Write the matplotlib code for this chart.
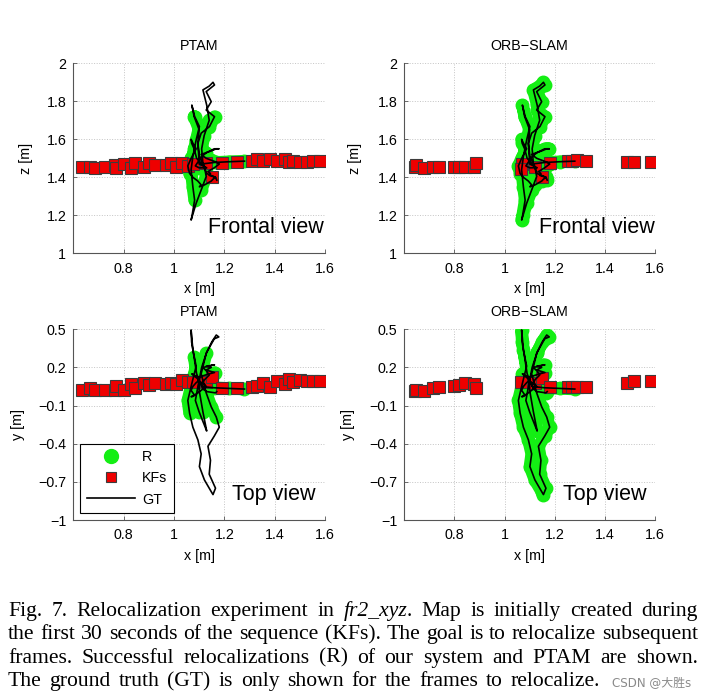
import numpy as np
import matplotlib
matplotlib.use("Agg")
import matplotlib.pyplot as plt
from matplotlib.lines import Line2D

# ground truth of the frames to relocalize, [m]
gt_x = [1.280, 1.220, 1.160, 1.110, 1.090, 1.080, 1.070, 1.068, 1.075, 1.088,
        1.068, 1.055, 1.062, 1.075, 1.095, 1.108, 1.101, 1.121, 1.148, 1.155,
        1.165, 1.140, 1.145, 1.135, 1.160, 1.180, 1.168, 1.148, 1.128, 1.108,
        1.128, 1.150, 1.168, 1.178, 1.160, 1.130, 1.110, 1.095, 1.085, 1.100,
        1.120, 1.130, 1.115, 1.100, 1.100, 1.095, 1.100, 1.080, 1.071, 1.082,
        1.101, 1.088, 1.075, 1.068, 1.075, 1.082, 1.072, 1.068, 1.088, 1.108,
        1.128, 1.121, 1.101, 1.095, 1.108, 1.141, 1.161, 1.128, 1.148, 1.128,
        1.161, 1.155, 1.140, 1.115, 1.130, 1.140, 1.120, 1.110, 1.115, 1.130,
        1.165, 1.170]
gt_y = [0.030, 0.035, 0.040, 0.050, 0.150, 0.280, 0.400, 0.495, 0.340, 0.210,
        0.050, -0.060, -0.160, -0.270, -0.370, -0.480, -0.580, -0.685, -0.777, -0.800,
        -0.750, -0.640, -0.530, -0.420, -0.340, -0.270, -0.190, -0.110, 0.000, 0.150,
        0.310, 0.400, 0.455, 0.440, 0.425, 0.320, 0.200, 0.050, -0.060, -0.150,
        -0.250, -0.300, -0.150, 0.020, 0.080, 0.100, 0.120, 0.140, 0.150, 0.130,
        0.100, 0.080, 0.050, 0.020, 0.000, -0.020, -0.030, -0.030, -0.010, 0.020,
        0.050, 0.070, 0.090, 0.110, 0.130, 0.150, 0.160, 0.180, 0.200, 0.210,
        0.220, 0.220, 0.210, 0.200, 0.170, 0.140, 0.100, 0.060, 0.030, 0.010,
        0.000, 0.010]
gt_z = [1.485, 1.482, 1.478, 1.470, 1.500, 1.550, 1.580, 1.600, 1.580, 1.550,
        1.500, 1.460, 1.420, 1.400, 1.380, 1.360, 1.350, 1.360, 1.380, 1.390,
        1.400, 1.410, 1.420, 1.430, 1.450, 1.470, 1.480, 1.490, 1.500, 1.520,
        1.530, 1.540, 1.550, 1.550, 1.550, 1.530, 1.510, 1.480, 1.460, 1.450,
        1.450, 1.450, 1.460, 1.470, 1.480, 1.580, 1.650, 1.720, 1.780, 1.720,
        1.667, 1.596, 1.509, 1.440, 1.350, 1.280, 1.200, 1.175, 1.263, 1.333,
        1.404, 1.456, 1.509, 1.579, 1.632, 1.667, 1.719, 1.754, 1.798, 1.851,
        1.886, 1.900, 1.880, 1.860, 1.780, 1.700, 1.620, 1.550, 1.470, 1.420,
        1.400, 1.385]

# 1 = frame relocalized by PTAM (ORB-SLAM relocalizes every frame)
ptam_reloc = [1, 1, 1, 1, 1, 1, 0, 0, 0, 1,
              1, 1, 1, 0, 0, 0, 0, 0, 0, 0,
              0, 0, 0, 0, 0, 0, 1, 1, 1, 1,
              1, 0, 0, 0, 0, 0, 1, 1, 1, 1,
              0, 0, 1, 1, 1, 1, 1, 1, 0, 1,
              1, 1, 1, 1, 1, 1, 0, 0, 0, 1,
              1, 1, 1, 1, 1, 1, 1, 0, 0, 0,
              0, 0, 0, 0, 0, 1, 1, 1, 1, 1,
              0, 0]
orb_reloc = [1] * len(gt_x)

# keyframes of the initial map
kf_ptam_x = [0.635, 0.668, 0.685, 0.725, 0.764, 0.771, 0.803, 0.829, 0.844, 0.882,
             0.902, 0.926, 0.968, 0.988, 1.008, 1.031, 1.054, 1.074, 1.127, 1.150,
             1.190, 1.250, 1.309, 1.329, 1.355, 1.382, 1.408, 1.441, 1.455, 1.474,
             1.501, 1.527, 1.554, 1.580]
kf_ptam_y = [0.023, 0.036, 0.020, 0.026, 0.023, 0.054, 0.025, 0.070, 0.041, 0.075,
             0.060, 0.075, 0.070, 0.080, 0.072, 0.101, 0.088, 0.088, 0.085, 0.122,
             0.041, 0.036, 0.044, 0.054, 0.075, 0.049, 0.096, 0.067, 0.107, 0.085,
             0.101, 0.096, 0.096, 0.096]
kf_ptam_z = [1.456, 1.456, 1.451, 1.454, 1.465, 1.451, 1.468, 1.451, 1.474, 1.456,
             1.474, 1.465, 1.465, 1.474, 1.456, 1.477, 1.460, 1.468, 1.474, 1.404,
             1.477, 1.479, 1.486, 1.495, 1.486, 1.495, 1.486, 1.495, 1.482, 1.486,
             1.479, 1.482, 1.486, 1.486]

kf_orb_x = [0.643, 0.646, 0.679, 0.714, 0.740, 0.800, 0.819, 0.843, 0.878, 0.885,
            1.071, 1.064, 1.122, 1.151, 1.181, 1.254, 1.268, 1.288, 1.325, 1.487,
            1.516, 1.584]
kf_orb_y = [0.017, 0.023, 0.017, 0.036, 0.049, 0.057, 0.062, 0.075, 0.070, 0.041,
            0.088, 0.085, 0.080, 0.120, 0.044, 0.044, 0.044, 0.044, 0.044, 0.080,
            0.096, 0.096]
kf_orb_z = [1.456, 1.465, 1.451, 1.453, 1.456, 1.453, 1.453, 1.453, 1.453, 1.477,
            1.470, 1.442, 1.456, 1.404, 1.477, 1.486, 1.486, 1.491, 1.486, 1.479,
            1.479, 1.479]

x_ticks = [0.8, 1.0, 1.2, 1.4, 1.6]
x_ticklabels = ['0.8', '1', '1.2', '1.4', '1.6']
z_ticks = [1.0, 1.2, 1.4, 1.6, 1.8, 2.0]
z_ticklabels = ['1', '1.2', '1.4', '1.6', '1.8', '2']
y_ticks = [-1.0, -0.7, -0.4, -0.1, 0.2, 0.5]
y_ticklabels = ['\u22121', '\u22120.7', '\u22120.4', '\u22120.1', '0.2', '0.5']

caption_lines = [
    "Fig. 7.  Relocalization experiment in *fr2_xyz*. Map is initially created during",
    "the first 30 seconds of the sequence (KFs). The goal is to relocalize subsequent",
    "frames. Successful relocalizations (R) of our system and PTAM are shown.",
    "The ground truth (GT) is only shown for the frames to relocalize.",
]

plt.rcParams['font.family'] = ['Liberation Sans', 'DejaVu Sans']

W, H = 707, 700
fig = plt.figure(figsize=(W / 100, H / 100), dpi=100)

GREEN = '#14ee14'
RED = '#ee0000'
FS = 10.3


def rect(l, t, r, b):
    return [l / W, 1 - b / H, (r - l) / W, (b - t) / H]


def panel(box, title, gv, reloc, kx, kv, ylim, yticks, yticklabels, ylabel,
          ylab_x, view, view_pos):
    ax = fig.add_axes(rect(*box))
    gx = np.array(gt_x)
    gv = np.array(gv)
    m = np.array(reloc, bool)
    rx = np.where(m, gx, np.nan)
    rv = np.where(m, gv, np.nan)
    ax.plot(rx, rv, '-', color=GREEN, lw=9, solid_capstyle='round',
            solid_joinstyle='round', zorder=2)
    ax.plot(rx, rv, 'o', color=GREEN, ms=9, zorder=2)
    ax.plot(kx, kv, 's', mfc=RED, mec='#3c3c3c', mew=0.8, ms=8, zorder=3)
    ax.plot(gx, gv, '-', color='black', lw=1.2, zorder=4)

    ax.set_xlim(0.6, 1.6)
    ax.set_ylim(*ylim)
    ax.set_xticks(x_ticks)
    ax.set_xticklabels(x_ticklabels)
    ax.set_yticks(yticks)
    ax.set_yticklabels(yticklabels)
    ax.grid(True, ls=':', color='#c4c4c4', lw=0.7)
    ax.set_axisbelow(True)
    for s in ['top', 'right']:
        ax.spines[s].set_visible(False)
    for s in ['left', 'bottom']:
        ax.spines[s].set_color('#555555')
        ax.spines[s].set_linewidth(0.8)
    ax.tick_params(direction='in', length=3, width=0.6, color='#555555',
                   labelsize=FS)
    ax.tick_params(axis='x', pad=6)
    ax.tick_params(axis='y', pad=5)
    ax.set_title(title, fontsize=FS, pad=9.5)
    ax.set_xlabel('x [m]', fontsize=FS)
    ax.set_ylabel(ylabel, fontsize=FS)
    ax.xaxis.set_label_coords(0.5, -0.15)
    ax.yaxis.set_label_coords(ylab_x, 0.5)
    ax.text(view_pos[0], view_pos[1], view, ha='right', va='baseline',
            fontsize=15.5, zorder=5)
    return ax


panel((73.3, 63.3, 325, 253.3), 'PTAM', gt_z, ptam_reloc, kf_ptam_x, kf_ptam_z,
      (1, 2), z_ticks, z_ticklabels, 'z [m]', -0.16, 'Frontal view', (1.596, 1.105))
panel((404.3, 63.3, 655, 253.3), 'ORB\u2212SLAM', gt_z, orb_reloc, kf_orb_x, kf_orb_z,
      (1, 2), z_ticks, z_ticklabels, 'z [m]', -0.17, 'Frontal view', (1.600, 1.105))
ax3 = panel((73.3, 329.3, 325, 520), 'PTAM', gt_y, ptam_reloc, kf_ptam_x, kf_ptam_y,
            (-1, 0.5), y_ticks, y_ticklabels, 'y [m]', -0.19, 'Top view', (1.564, -0.843))
panel((404.3, 329.3, 655, 520), 'ORB\u2212SLAM', gt_y, orb_reloc, kf_orb_x, kf_orb_y,
      (-1, 0.5), y_ticks, y_ticklabels, 'y [m]', -0.195, 'Top view', (1.567, -0.843))

handles = [Line2D([], [], ls='none', marker='o', ms=10, color=GREEN),
           Line2D([], [], ls='none', marker='s', ms=7.5, mfc=RED, mec='#3c3c3c', mew=0.8),
           Line2D([], [], color='black', lw=1.2)]
leg = ax3.legend(handles, ['R', 'KFs', 'GT'], loc='lower left',
                 bbox_to_anchor=(0.027, 0.037), borderaxespad=0, fontsize=FS,
                 handlelength=3.4, handletextpad=0.5, labelspacing=0.5,
                 borderpad=0.45, fancybox=False, framealpha=1, edgecolor='black')
leg.get_frame().set_linewidth(0.8)
leg.set_zorder(6)

# caption, justified like the paper
renderer = fig.canvas.get_renderer()
cap_left, cap_right = 8, 698
last_right = 600
baselines = [615.7, 639.3, 662.7, 686.0]
serif = ['Liberation Serif', 'DejaVu Serif']


def make_word(word, fs):
    runs = []
    for i, part in enumerate(word.split('*')):
        if not part:
            continue
        t = fig.text(0, 0, part, fontsize=fs, family=serif,
                     style='italic' if i % 2 else 'normal', va='baseline')
        runs.append((t, t.get_window_extent(renderer).width))
    return runs, sum(w for _, w in runs)


# pick the size so the densest line just fits with normal word spacing
base_fs = 14.0
natural = []
for line in caption_lines[:-1]:
    words = [make_word(w, base_fs) for w in line.split()]
    width = sum(w for _, w in words) + 0.25 * base_fs * 100 / 72 * (len(words) - 1)
    natural.append(width)
    for runs, _ in words:
        for t, _ in runs:
            t.remove()
cap_fs = base_fs * (cap_right - cap_left) / max(natural) * 0.995

for li, line in enumerate(caption_lines):
    words = [make_word(w, cap_fs) for w in line.split()]
    total = sum(w for _, w in words)
    right = last_right if li == len(caption_lines) - 1 else cap_right
    gap = (right - cap_left - total) / (len(words) - 1)
    x = cap_left
    yb = 1 - baselines[li] / H
    for runs, ww in words:
        xr = x
        for t, w in runs:
            t.set_position((xr / W, yb))
            xr += w
        x += ww + gap

fig.text(612 / W, 1 - 686 / H, 'CSDN @\u5927\u80dcs', fontsize=8.6, color='#8a8a8a',
         family=['DejaVu Sans', 'Noto Sans CJK SC'], va='baseline')

fig.savefig('out.png', dpi=100)
